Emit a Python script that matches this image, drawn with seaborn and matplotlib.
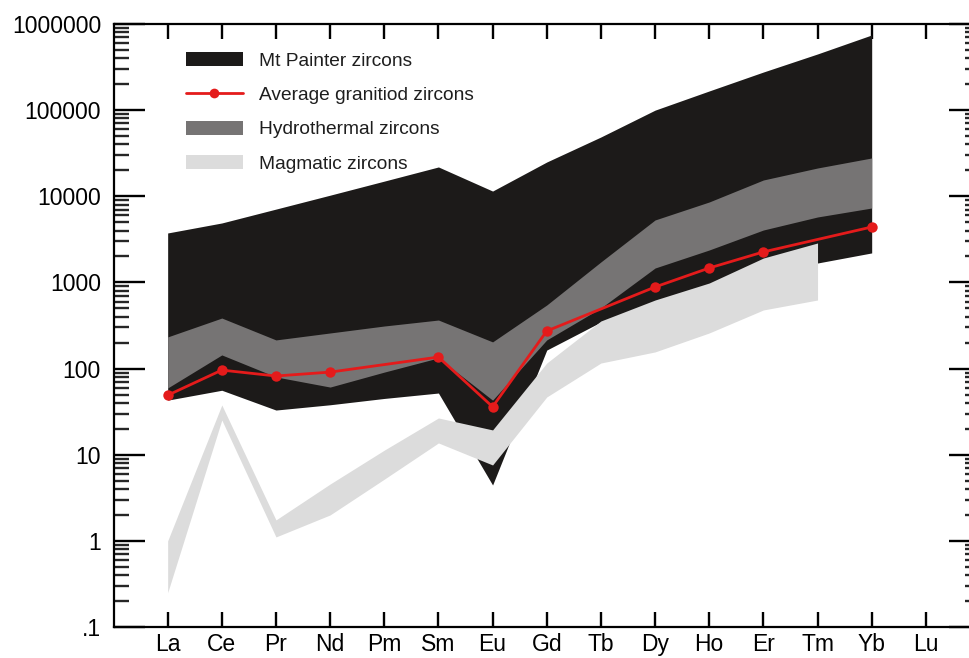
import numpy as np
import pandas as pd
import matplotlib
matplotlib.use("Agg")
import matplotlib.pyplot as plt
from matplotlib.patches import Patch
from matplotlib.lines import Line2D
from matplotlib.ticker import FixedLocator, FixedFormatter, LogLocator, NullFormatter
import seaborn as sns

# Rare earth elements along the x axis
elements = ["La", "Ce", "Pr", "Nd", "Pm", "Sm", "Eu", "Gd", "Tb", "Dy", "Ho", "Er", "Tm", "Yb", "Lu"]

# Mt Painter zircon envelope (La..Yb)
mt_painter_elements = elements[:14]
mt_painter_upper = [3750, 4900, 7100, 10300, 15000, 21900, 11500, 25000, 48800, 100000,
                    167000, 277000, 449000, 746000]
mt_painter_lower = [43, 56, 33, 38, 45, 52, 4.45, 164, 347, 547, 817, 1470, 1680, 2200]

# Hydrothermal zircon envelope (La..Yb)
hydro_elements = elements[:14]
hydro_upper = [233, 386, 215, 259, 312, 366, 204, 547, 1730, 5310, 8590, 15460, 21300, 27850]
hydro_lower = [59.5, 144, 80, 61, 91, 133, 43, 215, 505, 1470, 2380, 4060, 5750, 7310]

# Magmatic zircon envelope (La..Tm)
magmatic_elements = elements[:13]
magmatic_upper = [1.0, 37.8, 1.75, 4.57, 11.3, 26.7, 19.4, 116, 357, 625, 985, 1920, 2870]
magmatic_lower = [0.25, 25.3, 1.11, 2.0, 5.2, 13.7, 7.6, 46.8, 116, 156, 259, 479, 625]

# Average granitoid zircon
avg_elements = ["La", "Ce", "Pr", "Nd", "Sm", "Eu", "Gd", "Dy", "Ho", "Er", "Yb"]
avg_values = [49, 96, 82, 91, 136, 36, 273, 885, 1470, 2260, 4400]

y_ticks = [0.1, 1, 10, 100, 1000, 10000, 100000, 1000000]
y_tick_labels = [".1", "1", "10", "100", "1000", "10000", "100000", "1000000"]

legend_labels = ["Mt Painter zircons", "Average granitiod zircons",
                 "Hydrothermal zircons", "Magmatic zircons"]

C_BLACK = "#1c1a19"
C_HYDRO = "#767474"
C_MAGMA = "#dcdcdc"
C_RED = "#e41b1b"

sns.set_theme(style="white")
plt.rcParams["font.family"] = ["Liberation Sans", "DejaVu Sans"]

pos = {e: i for i, e in enumerate(elements)}

fig = plt.figure(figsize=(9.69, 6.58), dpi=100)
ax = fig.add_axes([113.5 / 969, 31 / 658, (980 - 113.5) / 969, 603 / 658])


def band(names, lower, upper, color, z):
    x = np.array([pos[n] for n in names], dtype=float)
    ax.fill_between(x, lower, upper, color=color, linewidth=0, zorder=z)


band(mt_painter_elements, mt_painter_lower, mt_painter_upper, C_BLACK, 1)
band(hydro_elements, hydro_lower, hydro_upper, C_HYDRO, 2)
band(magmatic_elements, magmatic_lower, magmatic_upper, C_MAGMA, 3)

avg_df = pd.DataFrame({"x": [pos[e] for e in avg_elements], "value": avg_values})
sns.lineplot(data=avg_df, x="x", y="value", color=C_RED, linewidth=2.0,
             marker="o", markersize=7.5, markeredgewidth=0, ax=ax, zorder=5,
             legend=False)

ax.set_yscale("log")
ax.set_ylim(0.1, 1e6)
ax.set_xlim(-1, 15)

ax.yaxis.set_major_locator(FixedLocator(y_ticks))
ax.yaxis.set_major_formatter(FixedFormatter(y_tick_labels))
ax.yaxis.set_minor_locator(LogLocator(base=10, subs=np.arange(2, 10), numticks=20))
ax.yaxis.set_minor_formatter(NullFormatter())

ax.set_xticks(range(len(elements)))
ax.set_xticklabels(elements)

ax.set_xlabel("")
ax.set_ylabel("")

ax.tick_params(axis="y", which="major", direction="in", length=22, width=1.7,
               left=True, right=True, labelleft=True, labelright=False,
               labelsize=16.5, pad=9, colors="black")
ax.tick_params(axis="y", which="minor", direction="in", length=11, width=1.7,
               left=True, right=True)
ax.tick_params(axis="x", which="major", direction="in", length=11, width=1.7,
               bottom=True, top=True, labelbottom=True, labeltop=False,
               labelsize=16.5, pad=4, colors="black")
ax.tick_params(axis="x", which="minor", bottom=False, top=False)

for side in ["left", "right", "top", "bottom"]:
    ax.spines[side].set_visible(True)
    ax.spines[side].set_color("black")
    ax.spines[side].set_linewidth(1.6)

handles = [
    Patch(facecolor=C_BLACK, edgecolor="none"),
    Line2D([0], [0], color=C_RED, lw=2.0, marker="o", markersize=7, markeredgewidth=0),
    Patch(facecolor=C_HYDRO, edgecolor="none"),
    Patch(facecolor=C_MAGMA, edgecolor="none"),
]
leg = ax.legend(handles, legend_labels, loc="upper left", bbox_to_anchor=(0.0837, 0.953),
                frameon=False, borderpad=0, borderaxespad=0, handlelength=2.97,
                handleheight=0.73, handletextpad=0.83, labelspacing=0.87, fontsize=13.8)
for t in leg.get_texts():
    t.set_color("#1e1e1e")

fig.savefig("out.png", dpi=100)
